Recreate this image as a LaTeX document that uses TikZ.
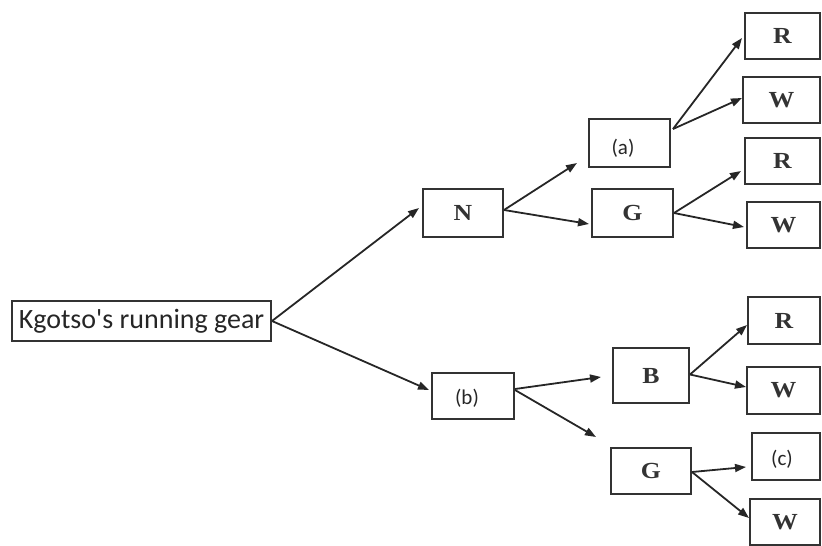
\documentclass[tikz,border=0pt]{standalone}
\usepackage{fontspec}
\setmainfont{Liberation Serif}
\newfontfamily\calib{Carlito}
\newfontfamily\serw[FakeStretch=1.12]{Liberation Serif}
\usetikzlibrary{arrows.meta,calc}
\begin{document}
\begin{tikzpicture}[x=1pt,y=-1pt,
  box/.style={draw=black!80, line width=2pt, fill=white, inner sep=0pt},
  ser/.style={box, font=\serw\bfseries\fontsize{23}{26}\selectfont, text=black!80},
  san/.style={box},
  lab/.style={font=\calib\fontsize{21}{24}\selectfont, text=black!85},
  arr/.style={draw=black!85, line width=1.8pt, -{Triangle[length=11pt,width=8pt]}}]
\useasboundingbox (0,0) rectangle (822,546);
\node[box, font=\calib\fontsize{28}{32}\selectfont, text=black!85, minimum width=259, minimum height=40] (kg) at (141.5,321) {Kgotso's running gear};
\node[ser, minimum width=80, minimum height=48] (N) at (463,213) {N};
\node[san, minimum width=81, minimum height=48, label={[lab, xshift=-6.5pt, yshift=-5pt]center:(a)}] (a) at (629.5,143) {};
\node[ser, minimum width=81, minimum height=48] (G1) at (632.5,213) {G};
\node[ser, minimum width=75, minimum height=46] (R1) at (782.5,36) {R};
\node[ser, minimum width=77, minimum height=46] (W1) at (781.5,100) {W};
\node[ser, minimum width=75, minimum height=46] (R2) at (782.5,161) {R};
\node[ser, minimum width=73, minimum height=46] (W2) at (783.5,225) {W};
\node[san, minimum width=82, minimum height=46, label={[lab, xshift=-6pt, yshift=-2pt]center:(b)}] (b) at (473,396) {};
\node[ser, minimum width=76, minimum height=55] (B) at (651,375.5) {B};
\node[ser, minimum width=80, minimum height=46] (G2) at (651,471) {G};
\node[ser, minimum width=72, minimum height=47] (R3) at (784,320.5) {R};
\node[ser, minimum width=73, minimum height=47] (W3) at (783.5,390.5) {W};
\node[san, minimum width=68, minimum height=47, label={[lab, xshift=-4pt, yshift=-3pt]center:(c)}] (c) at (786,456.5) {};
\node[ser, minimum width=70, minimum height=46] (W4) at (785,522) {W};
\draw[arr] (kg.east) -- ($(N.west)+(-3,-5)$);
\draw[arr] (kg.east) -- ($(b.west)+(-2,-6)$);
\draw[arr] ($(N.east)+(0,-3)$) -- ($(a.south west)+(-11,-5)$);
\draw[arr] ($(N.east)+(0,-3)$) -- ($(G1.west)+(-2,11)$);
\draw[arr] ($(a.north east)+(2,11)$) -- ($(R1.west)+(-2,2)$);
\draw[arr] ($(a.north east)+(2,11)$) -- ($(W1.west)+(0,-2)$);
\draw[arr] (G1.east) -- ($(R2.west)+(-3,10)$);
\draw[arr] (G1.east) -- ($(W2.west)+(-2,2)$);
\draw[arr] ($(b.east)+(0,-7)$) -- ($(B.west)+(-11,1.5)$);
\draw[arr] ($(b.east)+(0,-6)$) -- ($(G2.north west)+(-14,-10)$);
\draw[arr] ($(B.east)+(0,-1)$) -- ($(R3.west)+(0,4.5)$);
\draw[arr] ($(B.east)+(0,-1)$) -- ($(W3.west)+(0,-3.5)$);
\draw[arr] ($(G2.east)+(0,1)$) -- ($(c.west)+(-5,10.5)$);
\draw[arr] ($(G2.east)+(0,1)$) -- ($(W4.west)+(0,-4)$);
\end{tikzpicture}
\end{document}
